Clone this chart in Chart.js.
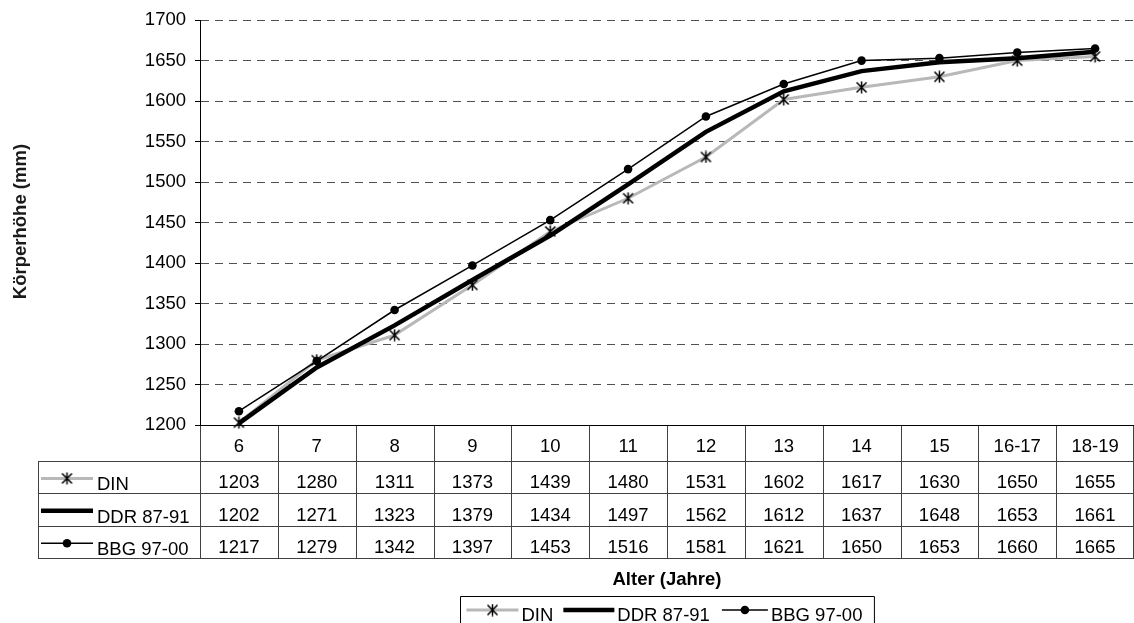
<!DOCTYPE html>
<html>
<head>
<meta charset="utf-8">
<script src="https://cdn.jsdelivr.net/npm/chart.js@4/dist/chart.umd.min.js"></script>
<style>
  html, body { margin: 0; padding: 0; background: #fff; }
  canvas { display: block; }
</style>
</head>
<body>
<canvas id="c" width="1134" height="623"></canvas>
<script>
// Age groups and body heights (mm)
const ageGroups = ['6', '7', '8', '9', '10', '11', '12', '13', '14', '15', '16-17', '18-19'];
const dinValues = [1203, 1280, 1311, 1373, 1439, 1480, 1531, 1602, 1617, 1630, 1650, 1655];
const ddrValues = [1202, 1271, 1323, 1379, 1434, 1497, 1562, 1612, 1637, 1648, 1653, 1661];
const bbgValues = [1217, 1279, 1342, 1397, 1453, 1516, 1581, 1621, 1650, 1653, 1660, 1665];
const seriesNames = ['DIN', 'DDR 87-91', 'BBG 97-00'];
const yTicks = { min: 1200, max: 1700, step: 50 };
const xTitle = 'Alter (Jahre)';
const yTitle = 'Körperhöhe (mm)';

const FONT = '"Liberation Sans", Arial, sans-serif';
const FS = 18.5;

// asterisk marker (vertical stroke + diagonal cross)
function makeAsterisk() {
  const c = document.createElement('canvas');
  c.width = 13; c.height = 13;
  const g = c.getContext('2d');
  g.strokeStyle = '#000';
  g.lineWidth = 1.5;
  g.beginPath();
  g.moveTo(6.5, 0.5); g.lineTo(6.5, 12.5);
  g.moveTo(1.5, 1.5); g.lineTo(11.5, 11.5);
  g.moveTo(11.5, 1.5); g.lineTo(1.5, 11.5);
  g.stroke();
  return c;
}
const asterisk = makeAsterisk();

const styles = [
  { color: '#b8b8b8', width: 3, marker: 'asterisk' },
  { color: '#000000', width: 4.5, marker: null },
  { color: '#000000', width: 1.5, marker: 'dot' }
];

function drawKey(ctx, idx, x0, x1, y) {
  const s = styles[idx];
  ctx.save();
  ctx.strokeStyle = s.color;
  ctx.lineWidth = s.width;
  ctx.lineCap = 'butt';
  ctx.beginPath();
  ctx.moveTo(x0, y); ctx.lineTo(x1, y);
  ctx.stroke();
  const cx = (x0 + x1) / 2;
  if (s.marker === 'asterisk') {
    ctx.drawImage(asterisk, cx - 6.5, y - 6.5);
  } else if (s.marker === 'dot') {
    ctx.fillStyle = '#000';
    ctx.beginPath();
    ctx.arc(cx, y, 4.3, 0, Math.PI * 2);
    ctx.fill();
  }
  ctx.restore();
}

// data table under the plot, y-axis title and boxed legend
const tablePlugin = {
  id: 'dataTable',
  afterDraw(chart) {
    const ctx = chart.ctx;
    const xs = chart.scales.x;
    const area = chart.chartArea;
    const n = ageGroups.length;
    const colW = (area.right - area.left) / n;
    const top = area.bottom;
    const headerH = 36;
    const rowH = 32.4;
    const tableLeft = 38;
    const rows = [dinValues, ddrValues, bbgValues];
    const bottom = top + headerH + rowH * rows.length;

    ctx.save();
    ctx.font = FS + 'px ' + FONT;
    ctx.fillStyle = '#000';
    ctx.textAlign = 'center';
    ctx.textBaseline = 'alphabetic';

    // grid of the table
    ctx.strokeStyle = '#404040';
    ctx.lineWidth = 1;
    ctx.beginPath();
    for (let i = 0; i <= n; i++) {
      const x = Math.min(Math.round(area.left + i * colW) + 0.5, area.right - 0.5);
      ctx.moveTo(x, top); ctx.lineTo(x, bottom);
    }
    for (let r = 0; r <= rows.length; r++) {
      const y = Math.round(top + headerH + r * rowH) + 0.5;
      ctx.moveTo(tableLeft, y); ctx.lineTo(area.right, y);
    }
    ctx.moveTo(tableLeft + 0.5, top + headerH); ctx.lineTo(tableLeft + 0.5, bottom);
    ctx.stroke();

    // x axis line
    ctx.strokeStyle = '#000';
    ctx.beginPath();
    ctx.moveTo(area.left, Math.round(top) + 0.5);
    ctx.lineTo(area.right, Math.round(top) + 0.5);
    ctx.stroke();

    // header labels
    for (let i = 0; i < n; i++) {
      ctx.fillText(ageGroups[i], xs.getPixelForValue(i), top + headerH - 9);
    }
    // rows
    rows.forEach((vals, r) => {
      const yb = top + headerH + (r + 1) * rowH;
      for (let i = 0; i < n; i++) {
        ctx.fillText(String(vals[i]), xs.getPixelForValue(i), yb - 5);
      }
      drawKey(ctx, r, 41, 93, yb - 15);
      ctx.textAlign = 'left';
      ctx.fillText(seriesNames[r], 97, yb - 3);
      ctx.textAlign = 'center';
    });

    // x title
    ctx.font = 'bold ' + FS + 'px ' + FONT;
    const midX = (area.left + area.right) / 2;
    ctx.fillText(xTitle, midX, 585);

    // legend box
    ctx.font = FS + 'px ' + FONT;
    const keyW = [52, 51, 46];
    const gaps = [10, 12];
    const padL = 6, padR = 12;
    let total = padL;
    seriesNames.forEach((nm, i) => {
      total += keyW[i] + 3 + ctx.measureText(nm).width;
      if (i < gaps.length) total += gaps[i];
    });
    total += padR;
    const bx = Math.round(midX - total / 2) + 0.5;
    ctx.strokeStyle = '#000';
    ctx.beginPath();
    ctx.rect(bx, 596.5, total, 40);
    ctx.stroke();
    let x = bx + padL;
    ctx.textAlign = 'left';
    seriesNames.forEach((nm, i) => {
      drawKey(ctx, i, x, x + keyW[i], 610);
      x += keyW[i] + 3;
      ctx.fillText(nm, x, 621);
      x += ctx.measureText(nm).width;
      if (i < gaps.length) x += gaps[i];
    });

    // y title (soft)
    ctx.save();
    ctx.translate(21, (area.top + area.bottom) / 2 - 1);
    ctx.rotate(-Math.PI / 2);
    ctx.filter = 'blur(0.7px)';
    ctx.font = 'bold ' + FS + 'px ' + FONT;
    ctx.fillStyle = '#1a1a1a';
    ctx.textAlign = 'center';
    ctx.textBaseline = 'middle';
    ctx.fillText(yTitle, 0, 0);
    ctx.restore();

    ctx.restore();
  }
};

new Chart(document.getElementById('c'), {
  type: 'line',
  data: {
    labels: ageGroups,
    datasets: [
      {
        label: seriesNames[0], data: dinValues, order: 2,
        borderColor: styles[0].color, borderWidth: styles[0].width,
        pointStyle: asterisk, pointRadius: 6, pointHoverRadius: 6,
        tension: 0, clip: false
      },
      {
        label: seriesNames[1], data: ddrValues, order: 1,
        borderColor: styles[1].color, borderWidth: styles[1].width,
        pointRadius: 0, pointHoverRadius: 0,
        tension: 0, clip: false
      },
      {
        label: seriesNames[2], data: bbgValues, order: 0,
        borderColor: styles[2].color, borderWidth: styles[2].width,
        pointStyle: 'circle', pointRadius: 4.3, pointHoverRadius: 4.3,
        pointBackgroundColor: '#000', pointBorderColor: '#000', pointBorderWidth: 0,
        tension: 0, clip: false
      }
    ]
  },
  options: {
    responsive: false,
    devicePixelRatio: 1,
    animation: false,
    events: [],
    layout: { autoPadding: false, padding: { left: 0, right: 0, top: 16, bottom: 198 } },
    plugins: { legend: { display: false }, tooltip: { enabled: false } },
    scales: {
      x: {
        type: 'category',
        offset: true,
        display: false,
        grid: { display: false }
      },
      y: {
        min: yTicks.min,
        max: yTicks.max,
        afterFit(scale) { scale.width = 200; },
        ticks: {
          stepSize: yTicks.step,
          color: '#000',
          padding: 9,
          font: { family: FONT, size: FS },
          callback: (v) => String(v)
        },
        grid: {
          color: '#505050',
          tickBorderDash: [],
          tickColor: '#000',
          tickLength: 5,
          lineWidth: 1
        },
        border: { display: true, color: '#000', width: 1, dash: [8, 6] }
      }
    }
  },
  plugins: [tablePlugin]
});
</script>
</body>
</html>
